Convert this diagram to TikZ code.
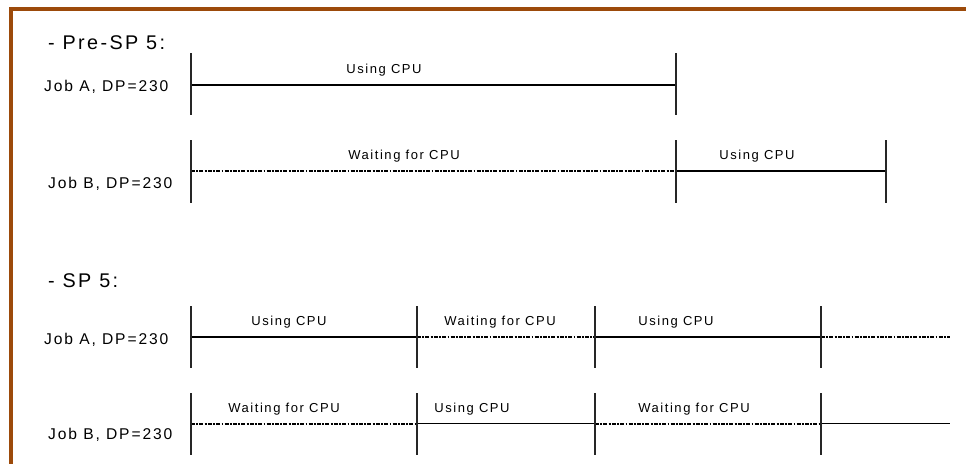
\documentclass[tikz,border=0pt]{standalone}
\usepackage{fontspec}
\setmainfont{Liberation Sans}
\newfontfamily\spacedfont[LetterSpace=12]{Liberation Sans}
\definecolor{framebrown}{RGB}{156,74,10}

\begin{document}
\begin{tikzpicture}[x=1pt,y=-1pt,
  heading/.style={anchor=base west, inner sep=0pt,
    font={\spacedfont\fontsize{19.8}{23}\selectfont}},
  joblbl/.style={anchor=base west, inner sep=0pt,
    font={\spacedfont\fontsize{15.6}{18}\selectfont}},
  seglbl/.style={anchor=base, inner sep=0pt,
    font={\spacedfont\fontsize{13}{16}\selectfont}},
  frameline/.style={draw=framebrown, line width=4pt, line join=miter},
  tick/.style={draw=black!85, line width=1.3pt},
  busy/.style={draw=black, line width=1.1pt},
  wait/.style={draw=black, line width=2pt,
    dash pattern=on 4pt off 1.3pt on 1.8pt off 1.3pt}]

\useasboundingbox (0,0) rectangle (966,463);

% frame: top and left edges only
\coordinate (frameBL) at (10.5,465);
\coordinate (frameTL) at (10.5,9);
\coordinate (frameTR) at (968,9);
\draw[frameline] (frameBL) -- (frameTL) -- (frameTR);

% ---------------- Pre-SP 5 ----------------
\node[heading] (hpre) at (48,49.5) {- Pre-SP 5:};

% Job A
\node[joblbl] (preAlbl) at (44,91.5) {Job A, DP=230};
\coordinate (pa0) at (191,85);
\coordinate (pa1) at (676,85);
\draw[busy] (pa0) -- (pa1);
\foreach \p in {pa0,pa1}
  \draw[tick] ([yshift=32pt]\p) -- ([yshift=-30pt]\p);
\node[seglbl] (preAuse) at (384,73) {Using CPU};

% Job B
\node[joblbl] (preBlbl) at (48,188.5) {Job B, DP=230};
\coordinate (pb0) at (191,171);
\coordinate (pb1) at (676,171);
\coordinate (pb2) at (886,171);
\draw[wait] (pb0) -- (pb1);
\draw[busy] (pb1) -- (pb2);
\foreach \p in {pb0,pb1,pb2}
  \draw[tick] ([yshift=31pt]\p) -- ([yshift=-32pt]\p);
\node[seglbl] (preBwait) at (404,159.5) {Waiting for CPU};
\node[seglbl] (preBuse) at (757,159.5) {Using CPU};

% ---------------- SP 5 ----------------
\node[heading] (hsp) at (48,287) {- SP 5:};

% Job A
\node[joblbl] (spAlbl) at (44,344.5) {Job A, DP=230};
\coordinate (sa0) at (191,337);
\coordinate (sa1) at (417,337);
\coordinate (sa2) at (595,337);
\coordinate (sa3) at (821,337);
\coordinate (sa4) at (950,337);
\draw[busy] (sa0) -- (sa1);
\draw[wait] (sa1) -- (sa2);
\draw[busy] (sa2) -- (sa3);
\draw[wait] (sa3) -- (sa4);
\foreach \p in {sa0,sa1,sa2,sa3}
  \draw[tick] ([yshift=31pt]\p) -- ([yshift=-31pt]\p);
\node[seglbl] (spAuse1) at (289,325.5) {Using CPU};
\node[seglbl] (spAwait) at (500,325.5) {Waiting for CPU};
\node[seglbl] (spAuse2) at (676,325.5) {Using CPU};

% Job B
\node[joblbl] (spBlbl) at (48,439) {Job B, DP=230};
\coordinate (sb0) at (191,423.5);
\coordinate (sb1) at (417,423.5);
\coordinate (sb2) at (595,423.5);
\coordinate (sb3) at (821,423.5);
\coordinate (sb4) at (950,423.5);
\draw[wait] (sb0) -- (sb1);
\draw[busy] (sb1) -- (sb2);
\draw[wait] (sb2) -- (sb3);
\draw[busy] (sb3) -- (sb4);
\foreach \p in {sb0,sb1,sb2,sb3}
  \draw[tick] ([yshift=30.5pt]\p) -- ([yshift=-31.5pt]\p);
\node[seglbl] (spBwait1) at (284,412.5) {Waiting for CPU};
\node[seglbl] (spBuse) at (472,412.5) {Using CPU};
\node[seglbl] (spBwait2) at (694,412.5) {Waiting for CPU};

\end{tikzpicture}
\end{document}
